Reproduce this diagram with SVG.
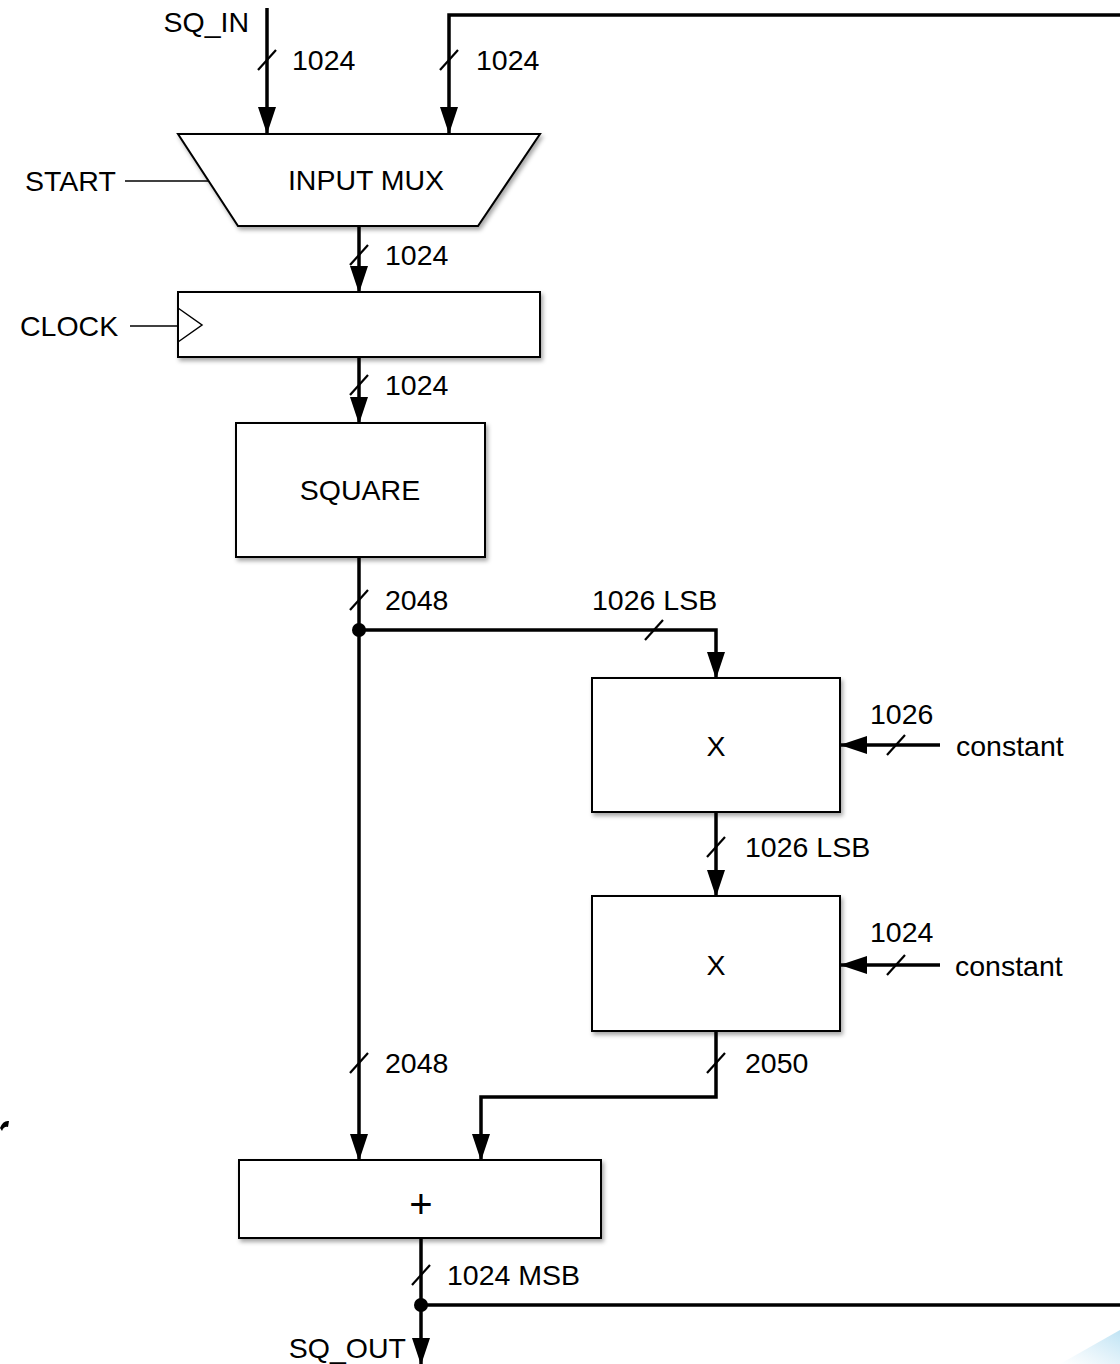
<svg xmlns="http://www.w3.org/2000/svg" width="1120" height="1364" viewBox="0 0 1120 1364">
<defs>
<style>
text{font-family:"Liberation Sans",Arial,sans-serif;font-size:28.5px;fill:#000}
.box{fill:#fff;stroke:#000;stroke-width:2}
.bus{fill:none;stroke:#000;stroke-width:3.5}
.thin{fill:none;stroke:#000;stroke-width:1.5}
.sl{stroke:#000;stroke-width:2.2}
.mid{text-anchor:middle}
.end{text-anchor:end}
</style>
<filter id="sh" x="-10%" y="-10%" width="125%" height="130%">
<feDropShadow dx="2" dy="3" stdDeviation="2" flood-color="#000" flood-opacity="0.35"/>
</filter>
<marker id="ah" markerUnits="userSpaceOnUse" markerWidth="28" markerHeight="18" refX="26" refY="9" orient="auto" viewBox="0 0 28 18">
<path d="M0,0 L27,9 L0,18 Z" fill="#000"/>
</marker>
<linearGradient id="bl" x1="0" y1="1" x2="1" y2="0">
<stop offset="0" stop-color="#cfe9f6" stop-opacity="0"/>
<stop offset="1" stop-color="#bfe3f4"/>
</linearGradient>
</defs>
<rect width="1120" height="1364" fill="#fff"/>
<path d="M1060,1364 L1120,1330 L1120,1364 Z" fill="url(#bl)"/>
<path d="M0,1128 Q3,1120 9,1121 L8,1127 Q4,1126 2,1131 Z" fill="#000"/>

<g id="connectors">
<path class="bus" d="M267,8 V133" marker-end="url(#ah)"/>
<path class="bus" d="M1120,15 H449 V133" marker-end="url(#ah)"/>
<path class="thin" d="M125,181 H209"/>
<path class="bus" d="M359,226 V292" marker-end="url(#ah)"/>
<path class="thin" d="M130,326 H178"/>
<path class="bus" d="M359,357 V423" marker-end="url(#ah)"/>
<path class="bus" d="M359,557 V1160" marker-end="url(#ah)"/>
<path class="bus" d="M359,630 H716 V678" marker-end="url(#ah)"/>
<path class="bus" d="M940,745 H841" marker-end="url(#ah)"/>
<path class="bus" d="M716,812 V896" marker-end="url(#ah)"/>
<path class="bus" d="M940,965 H841" marker-end="url(#ah)"/>
<path class="bus" d="M716,1031 V1097 H481 V1160" marker-end="url(#ah)"/>
<path class="bus" d="M421,1238 V1364" marker-end="url(#ah)"/>
<path class="bus" d="M421,1305 H1120"/>
<circle cx="359" cy="630" r="7" fill="#000"/>
<circle cx="421" cy="1305" r="7" fill="#000"/>
<g class="sl">
<line x1="258" y1="70" x2="276" y2="50"/>
<line x1="440" y1="70" x2="458" y2="50"/>
<line x1="350" y1="265" x2="368" y2="245"/>
<line x1="350" y1="395" x2="368" y2="375"/>
<line x1="350" y1="610" x2="368" y2="590"/>
<line x1="645" y1="640" x2="663" y2="620"/>
<line x1="887" y1="755" x2="905" y2="735"/>
<line x1="707" y1="857" x2="725" y2="837"/>
<line x1="887" y1="975" x2="905" y2="955"/>
<line x1="350" y1="1073" x2="368" y2="1053"/>
<line x1="707" y1="1073" x2="725" y2="1053"/>
<line x1="412" y1="1285" x2="430" y2="1265"/>
</g>
</g>

<g id="labels">
<text class="end" x="249" y="32">SQ_IN</text>
<text x="292" y="70">1024</text>
<text x="476" y="70">1024</text>
<text x="25" y="191">START</text>
<text x="385" y="265">1024</text>
<text x="20" y="336">CLOCK</text>
<text x="385" y="395">1024</text>
<text x="385" y="610">2048</text>
<text x="592" y="610">1026 LSB</text>
<text x="870" y="724">1026</text>
<text x="956" y="756">constant</text>
<text x="745" y="857">1026 LSB</text>
<text x="870" y="942">1024</text>
<text x="955" y="976">constant</text>
<text x="385" y="1073">2048</text>
<text x="745" y="1073">2050</text>
<text x="447" y="1285">1024 MSB</text>
<text class="end" x="406" y="1358">SQ_OUT</text>
</g>

<g id="mux">
<path class="box" filter="url(#sh)" d="M178,134 H540 L478,226 H238 Z"/>
<text class="mid" x="366" y="190">INPUT MUX</text>
</g>
<g id="register">
<rect class="box" filter="url(#sh)" x="178" y="292" width="362" height="65"/>
<path class="thin" d="M178,308 L202,325 L178,342"/>
</g>
<g id="square">
<rect class="box" filter="url(#sh)" x="236" y="423" width="249" height="134"/>
<text class="mid" x="360" y="500">SQUARE</text>
</g>
<g id="mult1">
<rect class="box" filter="url(#sh)" x="592" y="678" width="248" height="134"/>
<text class="mid" x="716" y="756">X</text>
</g>
<g id="mult2">
<rect class="box" filter="url(#sh)" x="592" y="896" width="248" height="135"/>
<text class="mid" x="716" y="975">X</text>
</g>
<g id="adder">
<rect class="box" filter="url(#sh)" x="239" y="1160" width="362" height="78"/>
<text class="mid" x="421" y="1218" style="font-size:40px">+</text>
</g>
</svg>
